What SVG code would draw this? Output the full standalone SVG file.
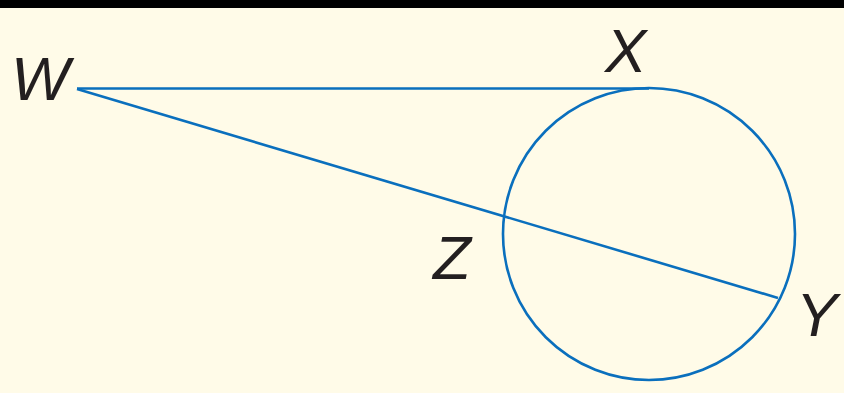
<svg xmlns="http://www.w3.org/2000/svg" width="844" height="393" viewBox="0 0 844 393">
<style>
.ln{fill:none;stroke:#0a6fbd;stroke-width:2.6}
.lb{font-family:"Liberation Sans",Arial,sans-serif;font-style:italic;font-size:62px;fill:#231f20}
</style>
<rect x="0" y="0" width="844" height="393" fill="#fffbe8"/>
<rect x="0" y="0" width="844" height="8" fill="#000"/>
<g id="connectors">
<circle class="ln" cx="649" cy="234" r="146"/>
<line class="ln" x1="77" y1="88.5" x2="649" y2="88.5"/>
<line class="ln" x1="77" y1="89" x2="778" y2="298"/>
</g>
<g id="W"><text class="lb" x="11" y="100">W</text></g>
<g id="X"><text class="lb" x="605" y="72">X</text></g>
<g id="Z"><text class="lb" x="433" y="279">Z</text></g>
<g id="Y"><text class="lb" x="796" y="336">Y</text></g>
</svg>
